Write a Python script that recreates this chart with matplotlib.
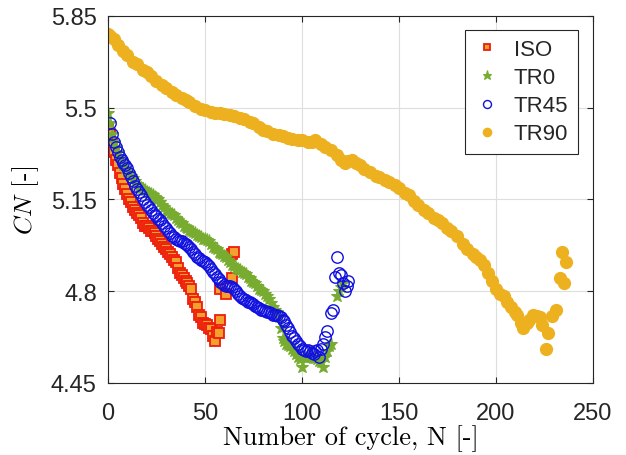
import matplotlib
matplotlib.use("Agg")
import matplotlib.pyplot as plt
import numpy as np

# ---------------------------------------------------------------------------
# Data
# ---------------------------------------------------------------------------
iso_n = [0, 1, 2, 3, 4, 5, 6, 7, 8, 9, 10, 11, 12, 13, 14, 15, 16, 17, 18, 19,
         20, 21, 22, 23, 24, 25, 26, 27, 28, 29, 30, 31, 32, 33, 34, 35, 36, 37,
         38, 39, 40, 41, 42, 43, 44, 45, 46, 47, 48, 49, 50, 51, 52, 53, 54, 55,
         56, 57, 58, 58, 61, 64, 64, 65]
iso_cn = [5.42, 5.40, 5.36, 5.33, 5.30, 5.28, 5.25, 5.23, 5.21, 5.19, 5.17, 5.15,
          5.14, 5.12, 5.11, 5.10, 5.09, 5.08, 5.06, 5.05, 5.05, 5.04, 5.03, 5.03,
          5.02, 5.01, 5.00, 4.99, 4.98, 4.97, 4.96, 4.95, 4.94, 4.93, 4.92, 4.91,
          4.89, 4.87, 4.86, 4.85, 4.84, 4.83, 4.82, 4.81, 4.77, 4.76, 4.74, 4.71,
          4.70, 4.68, 4.675, 4.67, 4.66, 4.655, 4.63, 4.61, 4.645, 4.64, 4.69,
          4.81, 4.79, 4.85, 4.94, 4.95]

tr0_n = list(range(0, 116)) + [118, 119, 120, 121]
tr0_cn = [5.48, 5.44, 5.40, 5.37, 5.35, 5.33, 5.31, 5.29, 5.28, 5.27,
          5.26, 5.25, 5.24, 5.23, 5.22, 5.21, 5.20, 5.195, 5.19, 5.185,
          5.18, 5.175, 5.17, 5.165, 5.16, 5.155, 5.15, 5.14, 5.13, 5.12,
          5.11, 5.105, 5.10, 5.095, 5.09, 5.08, 5.07, 5.065, 5.06, 5.05,
          5.045, 5.04, 5.035, 5.03, 5.025, 5.02, 5.015, 5.01, 5.005, 5.00,
          5.00, 4.995, 4.99, 4.98, 4.97, 4.965, 4.96, 4.95, 4.945, 4.94,
          4.935, 4.93, 4.92, 4.91, 4.90, 4.895, 4.89, 4.885, 4.88, 4.875,
          4.87, 4.865, 4.855, 4.85, 4.84, 4.835, 4.83, 4.82, 4.81, 4.805,
          4.80, 4.79, 4.78, 4.77, 4.755, 4.74, 4.73, 4.72, 4.70, 4.66,
          4.62, 4.61, 4.60, 4.595, 4.59, 4.58, 4.57, 4.56, 4.55, 4.54,
          4.51, 4.55, 4.545, 4.55, 4.55, 4.55, 4.55, 4.545, 4.54, 4.535,
          4.53, 4.51, 4.55, 4.57, 4.59, 4.60,
          4.78, 4.80, 4.815, 4.83]

tr45_n = list(range(1, 114)) + [115, 116, 117, 118, 119, 120, 121, 122, 123, 124]
tr45_cn = [5.44, 5.40, 5.37, 5.35, 5.33, 5.31, 5.30, 5.29, 5.28,
           5.27, 5.25, 5.235, 5.22, 5.20, 5.19, 5.18, 5.165, 5.15, 5.14,
           5.13, 5.12, 5.11, 5.10, 5.09, 5.085, 5.075, 5.07, 5.06, 5.05,
           5.04, 5.03, 5.02, 5.01, 5.005, 5.00, 4.995, 4.99, 4.99, 4.985,
           4.98, 4.975, 4.97, 4.96, 4.95, 4.94, 4.93, 4.925, 4.92, 4.915,
           4.91, 4.905, 4.895, 4.885, 4.875, 4.865, 4.855, 4.845, 4.835, 4.83,
           4.825, 4.82, 4.82, 4.82, 4.815, 4.81, 4.80, 4.79, 4.78, 4.775,
           4.77, 4.765, 4.76, 4.76, 4.755, 4.75, 4.745, 4.74, 4.735, 4.73,
           4.73, 4.725, 4.72, 4.72, 4.715, 4.71, 4.71, 4.71, 4.705, 4.70,
           4.69, 4.685, 4.67, 4.66, 4.645, 4.63, 4.62, 4.61, 4.60, 4.59,
           4.58, 4.575, 4.57, 4.575, 4.57, 4.565, 4.56, 4.57, 4.575, 4.55,
           4.58, 4.60, 4.625, 4.65,
           4.715, 4.73, 4.855, 4.93, 4.87, 4.86, 4.83, 4.80, 4.82, 4.84]

tr90_n = [0, 1, 3, 5, 8, 10, 13, 15, 18, 20, 22, 25, 28, 30, 33, 35, 38, 40,
          42, 45, 48, 50, 53, 55, 58, 60, 63, 65, 68, 70, 73, 75, 78, 80, 82,
          85, 88, 90, 93, 95, 98, 100, 103, 105, 107, 110, 112, 115, 118, 120,
          122, 124, 126, 128, 130, 132, 135, 138, 140, 143, 145, 148, 150, 153,
          155, 158, 160, 163, 165, 168, 170, 172, 175, 177, 180, 183, 185, 188,
          190, 192, 194, 196, 198, 200, 202, 204, 206, 208, 210, 211, 213, 214,
          216, 217, 219, 221, 223, 224, 226, 227, 229, 231, 233, 234, 235, 236]
tr90_cn = [5.78, 5.775, 5.76, 5.74, 5.715, 5.70, 5.675, 5.665, 5.645, 5.635,
           5.62, 5.60, 5.585, 5.575, 5.56, 5.55, 5.535, 5.53, 5.52, 5.505,
           5.495, 5.49, 5.485, 5.48, 5.478, 5.475, 5.472, 5.47, 5.46, 5.455,
           5.445, 5.44, 5.425, 5.415, 5.41, 5.40, 5.395, 5.39, 5.385, 5.38,
           5.378, 5.375, 5.37, 5.37, 5.375, 5.36, 5.35, 5.34, 5.32, 5.30,
           5.29, 5.295, 5.30, 5.29, 5.28, 5.265, 5.255, 5.24, 5.235, 5.225,
           5.215, 5.205, 5.195, 5.175, 5.165, 5.145, 5.13, 5.11, 5.10, 5.08,
           5.07, 5.06, 5.04, 5.03, 5.01, 4.98, 4.96, 4.94, 4.93, 4.92,
           4.90, 4.87, 4.84, 4.81, 4.79, 4.78, 4.76, 4.74, 4.72, 4.71,
           4.68, 4.66, 4.68, 4.69, 4.71, 4.705, 4.70, 4.67, 4.58, 4.64,
           4.705, 4.73, 4.85, 4.95, 4.83, 4.91]

x_ticks = [0, 50, 100, 150, 200, 250]
y_ticks = [4.45, 4.8, 5.15, 5.5, 5.85]
y_tick_labels = ["4.45", "4.8", "5.15", "5.5", "5.85"]

# ---------------------------------------------------------------------------
# Style
# ---------------------------------------------------------------------------
TEXT_COL = "#262626"
plt.rcParams.update({
    "font.family": "Liberation Sans",
    "font.size": 17,
    "mathtext.fontset": "cm",
    "axes.edgecolor": TEXT_COL,
    "xtick.color": TEXT_COL,
    "ytick.color": TEXT_COL,
    "text.color": TEXT_COL,
})

fig = plt.figure(figsize=(6.26, 4.56), dpi=100)
ax = fig.add_axes([0.1725, 0.158, 0.7745, 0.805])

ax.plot(iso_n, iso_cn, linestyle="none", marker="s", markersize=7,
        markerfacecolor="#f5a02c", markeredgecolor="#ee1c0c",
        markeredgewidth=1.3, label="ISO")
ax.plot(tr0_n, tr0_cn, linestyle="none", marker="*", markersize=9.5,
        color="#77ac30", markeredgewidth=0.8, label="TR0")
ax.plot(tr45_n, tr45_cn, linestyle="none", marker="o", markersize=8.2,
        markerfacecolor="none", markeredgecolor="#1010e0",
        markeredgewidth=1.0, label="TR45")
ax.plot(tr90_n, tr90_cn, linestyle="none", marker="o", markersize=8.5,
        color="#edb120", label="TR90")

ax.set_xlim(0, 250)
ax.set_ylim(4.45, 5.85)
ax.set_xticks(x_ticks)
ax.set_yticks(y_ticks)
ax.set_yticklabels(y_tick_labels)
ax.tick_params(direction="in", top=True, right=True, length=4, width=0.8,
               labelsize=17)
ax.tick_params(axis="x", pad=14)
ax.tick_params(axis="y", pad=8)
ax.grid(True, color="#dedede", linewidth=0.8)
ax.set_axisbelow(True)
for sp in ax.spines.values():
    sp.set_linewidth(0.8)

ax.set_xlabel("Number of cycle, N [-]", fontfamily="cmr10", fontsize=19,
              labelpad=0)
ax.set_ylabel("$CN$ [-]", fontfamily="cmr10", fontsize=18.5, labelpad=7)

leg = ax.legend(loc="upper right", bbox_to_anchor=(0.969, 0.962),
                borderaxespad=0, fancybox=False, edgecolor=TEXT_COL,
                framealpha=1, fontsize=16, labelspacing=0.32,
                handlelength=1.2, handletextpad=0.6, borderpad=0.42,
                markerscale=0.7)
leg.get_frame().set_linewidth(0.8)

fig.savefig("out.png", dpi=100)
